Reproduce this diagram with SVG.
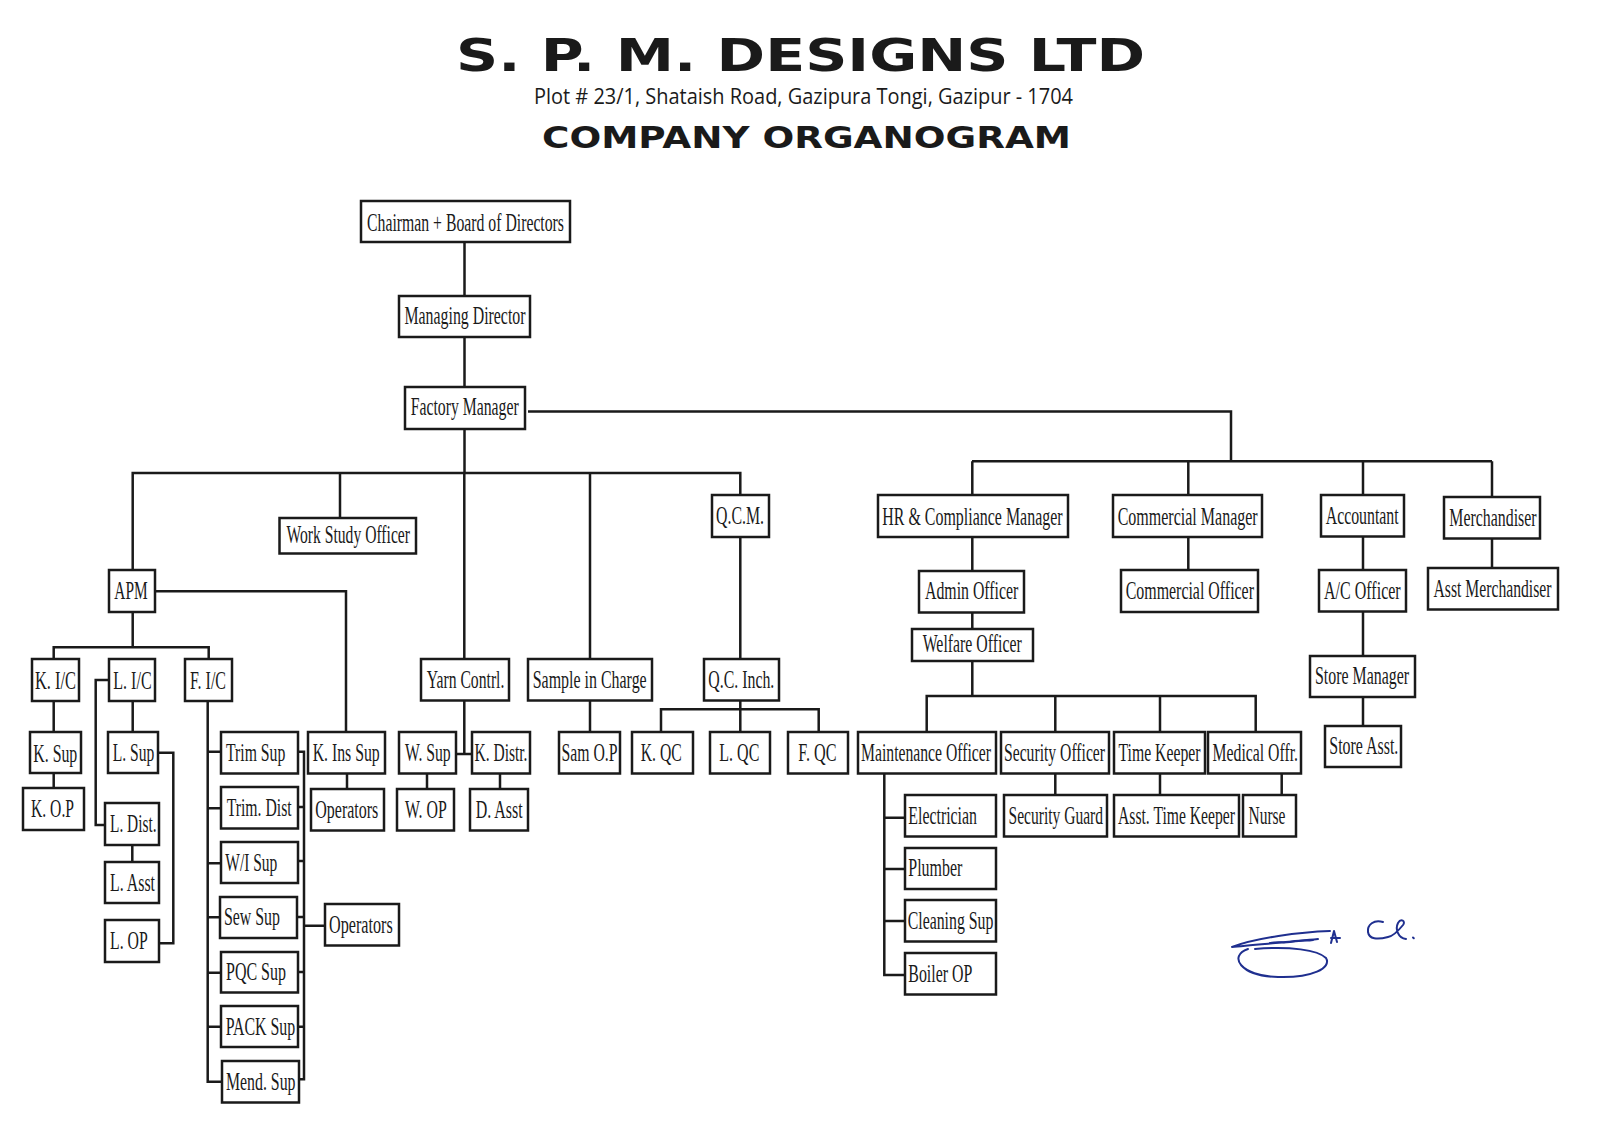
<svg xmlns="http://www.w3.org/2000/svg" width="1600" height="1131" viewBox="0 0 1600 1131">
<style>
.b{fill:#fff;stroke:#1a1a1a;stroke-width:2.5}
.t{font-family:"Liberation Serif","Times New Roman",serif;font-size:25px;fill:#1a1a1a}
.c{fill:none;stroke:#1a1a1a;stroke-width:2.5}
.h1{font-family:"DejaVu Sans","Liberation Sans",sans-serif;font-weight:bold;font-size:44px;fill:#1a1a1a}
.h2{font-family:"Open Sans","Liberation Sans",sans-serif;font-size:21px;fill:#1a1a1a}
.h3{font-family:"DejaVu Sans","Liberation Sans",sans-serif;font-weight:bold;font-size:31px;fill:#1a1a1a}
.sig{fill:none;stroke:#1f2f8f;stroke-width:2;stroke-linecap:round;stroke-linejoin:round}
</style>
<rect width="1600" height="1131" fill="#fff"/>
<g id="header">
<text class="h1" x="456" y="71" textLength="689" lengthAdjust="spacingAndGlyphs">S. P. M. DESIGNS LTD</text>
<text class="h2" x="534" y="104" textLength="539" lengthAdjust="spacingAndGlyphs">Plot # 23/1, Shataish Road, Gazipura Tongi, Gazipur - 1704</text>
<text class="h3" x="542" y="148" textLength="529" lengthAdjust="spacingAndGlyphs">COMPANY ORGANOGRAM</text>
</g>
<g id="connectors">
<path class="c" d="M464.5,242V296M464.5,337V387M464.5,429V473"/>
<path class="c" d="M132.7,570V473H740.3V495M340,473V518M590,473V659M464.3,473V659"/>
<path class="c" d="M528,411.5H1231V461.3M972,461.3H1492M972.3,461.3V495M1188.3,461.3V495M1363,461.3V495M1492,461.3V497"/>
<path class="c" d="M972.3,537V571M972.3,612.5V629M972.3,661V696M926.7,732V696H1255.7V732M1055.3,696V732M1160,696V732"/>
<path class="c" d="M1188.3,537V570M1363,536.5V570M1363,611.5V656M1363,697V726M1492,538.5V568"/>
<path class="c" d="M884.3,773.5V975H905M884.3,817.7H905M884.3,869H905M884.3,921H905"/>
<path class="c" d="M1055.3,773.5V795M1160,773.5V795M1281.7,773.5V795"/>
<path class="c" d="M155,591.3H346V732M347,773.5V789"/>
<path class="c" d="M132.7,612V647.3M53.7,659V647.3H208.7V659M53.7,701V732M53.7,773V788"/>
<path class="c" d="M109,680H95.7V825H105M132.7,701V732M158,752.7H173.3V943.3H159M132.3,845V862"/>
<path class="c" d="M207.7,701V1081.7H222M207.7,751.7H221M207.7,808.3H221M207.7,863.3H221M207.7,917.3H220M207.7,972.7H221M207.7,1026.7H221"/>
<path class="c" d="M298,751.7H304V1079.3H299M298,807H304M298,861H304M297,917H304M298,972H304M298,1026.7H304M304,925.7H325"/>
<path class="c" d="M464.3,700.5V754M456,754H472M427,773.5V789M500,773.5V789"/>
<path class="c" d="M590,700.5V732M740.3,537V659M740.3,700.5V732M661,732V709.3H818.7V732"/>
</g>
<g id="chairman"><rect class="b" x="361" y="201" width="209" height="41"/><text class="t" x="367" y="231" textLength="197" lengthAdjust="spacingAndGlyphs">Chairman + Board of Directors</text></g>
<g id="md"><rect class="b" x="399" y="296" width="131" height="41"/><text class="t" x="404.5" y="324" textLength="121" lengthAdjust="spacingAndGlyphs">Managing Director</text></g>
<g id="fm"><rect class="b" x="405" y="387" width="120" height="42"/><text class="t" x="410.7" y="415" textLength="108" lengthAdjust="spacingAndGlyphs">Factory Manager</text></g>
<g id="wso"><rect class="b" x="279.5" y="518" width="136.5" height="35.5"/><text class="t" x="286.5" y="543" textLength="123.5" lengthAdjust="spacingAndGlyphs">Work Study Officer</text></g>
<g id="apm"><rect class="b" x="109" y="570" width="46" height="42"/><text class="t" x="114.3" y="599" textLength="33.3" lengthAdjust="spacingAndGlyphs">APM</text></g>
<g id="qcm"><rect class="b" x="712" y="495" width="57" height="42"/><text class="t" x="716" y="524" textLength="48" lengthAdjust="spacingAndGlyphs">Q.C.M.</text></g>
<g id="kic"><rect class="b" x="32" y="659" width="47" height="42"/><text class="t" x="35" y="689" textLength="41" lengthAdjust="spacingAndGlyphs">K. I/C</text></g>
<g id="lic"><rect class="b" x="109" y="659" width="46" height="42"/><text class="t" x="113.3" y="689" textLength="38.3" lengthAdjust="spacingAndGlyphs">L. I/C</text></g>
<g id="fic"><rect class="b" x="185" y="659" width="47" height="42"/><text class="t" x="190" y="689" textLength="36" lengthAdjust="spacingAndGlyphs">F. I/C</text></g>
<g id="ksup"><rect class="b" x="30" y="732" width="51" height="41"/><text class="t" x="33.3" y="762" textLength="44" lengthAdjust="spacingAndGlyphs">K. Sup</text></g>
<g id="kop"><rect class="b" x="23" y="788" width="61" height="42"/><text class="t" x="31" y="817" textLength="43" lengthAdjust="spacingAndGlyphs">K. O.P</text></g>
<g id="lsup"><rect class="b" x="108" y="732" width="50" height="41"/><text class="t" x="112.7" y="761" textLength="41.5" lengthAdjust="spacingAndGlyphs">L. Sup</text></g>
<g id="ldist"><rect class="b" x="105" y="803" width="54" height="42"/><text class="t" x="110" y="832" textLength="46.5" lengthAdjust="spacingAndGlyphs">L. Dist.</text></g>
<g id="lasst"><rect class="b" x="105" y="862" width="54" height="41"/><text class="t" x="110" y="891" textLength="45" lengthAdjust="spacingAndGlyphs">L. Asst</text></g>
<g id="lop"><rect class="b" x="105" y="920" width="54" height="42"/><text class="t" x="110" y="949" textLength="37.7" lengthAdjust="spacingAndGlyphs">L. OP</text></g>
<g id="trimsup"><rect class="b" x="221" y="732" width="77" height="41.5"/><text class="t" x="226" y="761" textLength="59.3" lengthAdjust="spacingAndGlyphs">Trim Sup</text></g>
<g id="trimdist"><rect class="b" x="221" y="787" width="77" height="41.5"/><text class="t" x="226.7" y="816" textLength="65" lengthAdjust="spacingAndGlyphs">Trim. Dist</text></g>
<g id="wisup"><rect class="b" x="221" y="842" width="77" height="41"/><text class="t" x="225.3" y="871" textLength="52" lengthAdjust="spacingAndGlyphs">W/I Sup</text></g>
<g id="sewsup"><rect class="b" x="220" y="897" width="77" height="41"/><text class="t" x="224" y="925" textLength="56" lengthAdjust="spacingAndGlyphs">Sew Sup</text></g>
<g id="pqcsup"><rect class="b" x="221" y="952" width="77" height="40.5"/><text class="t" x="226" y="980" textLength="60" lengthAdjust="spacingAndGlyphs">PQC Sup</text></g>
<g id="packsup"><rect class="b" x="221" y="1006" width="77" height="41"/><text class="t" x="225.7" y="1035" textLength="69.5" lengthAdjust="spacingAndGlyphs">PACK Sup</text></g>
<g id="mendsup"><rect class="b" x="222" y="1061" width="77" height="41.5"/><text class="t" x="226" y="1090" textLength="69.5" lengthAdjust="spacingAndGlyphs">Mend. Sup</text></g>
<g id="kinssup"><rect class="b" x="308" y="732" width="77" height="41.5"/><text class="t" x="312.7" y="761" textLength="67" lengthAdjust="spacingAndGlyphs">K. Ins Sup</text></g>
<g id="operators1"><rect class="b" x="311" y="789" width="73" height="41.5"/><text class="t" x="315.3" y="818" textLength="63" lengthAdjust="spacingAndGlyphs">Operators</text></g>
<g id="operators2"><rect class="b" x="325" y="904" width="74" height="41.5"/><text class="t" x="329" y="933" textLength="63.7" lengthAdjust="spacingAndGlyphs">Operators</text></g>
<g id="yarn"><rect class="b" x="421" y="659" width="88" height="41.5"/><text class="t" x="426.7" y="688" textLength="77.7" lengthAdjust="spacingAndGlyphs">Yarn Contrl.</text></g>
<g id="sample"><rect class="b" x="528" y="659" width="124" height="41.5"/><text class="t" x="532.7" y="688" textLength="114" lengthAdjust="spacingAndGlyphs">Sample in Charge</text></g>
<g id="qcinch"><rect class="b" x="704" y="659" width="75" height="41.5"/><text class="t" x="708.3" y="688" textLength="66" lengthAdjust="spacingAndGlyphs">Q.C. Inch.</text></g>
<g id="wsup"><rect class="b" x="399" y="732" width="57" height="41.5"/><text class="t" x="405" y="761" textLength="45.7" lengthAdjust="spacingAndGlyphs">W. Sup</text></g>
<g id="kdistr"><rect class="b" x="472" y="732" width="58" height="41.5"/><text class="t" x="474.5" y="761" textLength="53" lengthAdjust="spacingAndGlyphs">K. Distr.</text></g>
<g id="samop"><rect class="b" x="559" y="732" width="61" height="41.5"/><text class="t" x="561.5" y="761" textLength="56" lengthAdjust="spacingAndGlyphs">Sam O.P</text></g>
<g id="kqc"><rect class="b" x="632" y="732" width="61" height="41.5"/><text class="t" x="640.7" y="761" textLength="41" lengthAdjust="spacingAndGlyphs">K. QC</text></g>
<g id="lqc"><rect class="b" x="710" y="732" width="60" height="41.5"/><text class="t" x="719.3" y="761" textLength="40" lengthAdjust="spacingAndGlyphs">L. QC</text></g>
<g id="fqc"><rect class="b" x="788" y="732" width="60" height="41.5"/><text class="t" x="798.3" y="761" textLength="38.3" lengthAdjust="spacingAndGlyphs">F. QC</text></g>
<g id="wop"><rect class="b" x="397" y="789" width="57" height="41.5"/><text class="t" x="405" y="818" textLength="41.7" lengthAdjust="spacingAndGlyphs">W. OP</text></g>
<g id="dasst"><rect class="b" x="470" y="789" width="58" height="41.5"/><text class="t" x="475.7" y="818" textLength="47" lengthAdjust="spacingAndGlyphs">D. Asst</text></g>
<g id="hr"><rect class="b" x="878" y="495" width="190" height="42"/><text class="t" x="882.3" y="525" textLength="180.3" lengthAdjust="spacingAndGlyphs">HR &amp; Compliance Manager</text></g>
<g id="cm"><rect class="b" x="1113" y="495" width="149" height="42"/><text class="t" x="1117.7" y="525" textLength="140" lengthAdjust="spacingAndGlyphs">Commercial Manager</text></g>
<g id="admin"><rect class="b" x="919" y="571" width="105" height="41.5"/><text class="t" x="925" y="599" textLength="93.3" lengthAdjust="spacingAndGlyphs">Admin Officer</text></g>
<g id="co"><rect class="b" x="1121" y="570" width="137" height="42"/><text class="t" x="1125.7" y="599" textLength="128.3" lengthAdjust="spacingAndGlyphs">Commercial Officer</text></g>
<g id="welfare"><rect class="b" x="912" y="629" width="121" height="32"/><text class="t" x="922.7" y="652" textLength="99" lengthAdjust="spacingAndGlyphs">Welfare Officer</text></g>
<g id="maint"><rect class="b" x="858" y="732" width="138" height="41.5"/><text class="t" x="861" y="761" textLength="130" lengthAdjust="spacingAndGlyphs">Maintenance Officer</text></g>
<g id="secoff"><rect class="b" x="1001" y="732" width="108" height="41.5"/><text class="t" x="1004" y="761" textLength="101" lengthAdjust="spacingAndGlyphs">Security Officer</text></g>
<g id="timek"><rect class="b" x="1114" y="732" width="91" height="41.5"/><text class="t" x="1118.5" y="761" textLength="82" lengthAdjust="spacingAndGlyphs">Time Keeper</text></g>
<g id="medical"><rect class="b" x="1208" y="732" width="93" height="41.5"/><text class="t" x="1212.5" y="761" textLength="85.5" lengthAdjust="spacingAndGlyphs">Medical Offr.</text></g>
<g id="electrician"><rect class="b" x="905" y="795" width="91" height="41.5"/><text class="t" x="908.3" y="824" textLength="68.7" lengthAdjust="spacingAndGlyphs">Electrician</text></g>
<g id="plumber"><rect class="b" x="905" y="848" width="91" height="41"/><text class="t" x="908.3" y="876" textLength="54" lengthAdjust="spacingAndGlyphs">Plumber</text></g>
<g id="cleaning"><rect class="b" x="905" y="900" width="91" height="41.5"/><text class="t" x="907.7" y="929" textLength="85.7" lengthAdjust="spacingAndGlyphs">Cleaning Sup</text></g>
<g id="boiler"><rect class="b" x="905" y="953" width="91" height="41.5"/><text class="t" x="908.3" y="982" textLength="64" lengthAdjust="spacingAndGlyphs">Boiler OP</text></g>
<g id="secguard"><rect class="b" x="1004" y="795" width="103" height="41.5"/><text class="t" x="1008.5" y="824" textLength="94.5" lengthAdjust="spacingAndGlyphs">Security Guard</text></g>
<g id="assttk"><rect class="b" x="1114" y="795" width="125" height="41.5"/><text class="t" x="1118" y="824" textLength="117" lengthAdjust="spacingAndGlyphs">Asst. Time Keeper</text></g>
<g id="nurse"><rect class="b" x="1243" y="795" width="53" height="41.5"/><text class="t" x="1248.5" y="824" textLength="37" lengthAdjust="spacingAndGlyphs">Nurse</text></g>
<g id="accountant"><rect class="b" x="1321" y="495" width="83" height="41.5"/><text class="t" x="1325.7" y="524" textLength="73" lengthAdjust="spacingAndGlyphs">Accountant</text></g>
<g id="merch"><rect class="b" x="1444" y="497" width="96" height="41.5"/><text class="t" x="1449.3" y="526" textLength="87.3" lengthAdjust="spacingAndGlyphs">Merchandiser</text></g>
<g id="acoff"><rect class="b" x="1319" y="570" width="87" height="41.5"/><text class="t" x="1324" y="599" textLength="76.7" lengthAdjust="spacingAndGlyphs">A/C Officer</text></g>
<g id="asstmerch"><rect class="b" x="1428" y="568" width="130" height="41.5"/><text class="t" x="1433.5" y="597" textLength="118" lengthAdjust="spacingAndGlyphs">Asst Merchandiser</text></g>
<g id="storemgr"><rect class="b" x="1310" y="656" width="105" height="41"/><text class="t" x="1315" y="684" textLength="94" lengthAdjust="spacingAndGlyphs">Store Manager</text></g>
<g id="storeasst"><rect class="b" x="1325" y="726" width="76" height="41"/><text class="t" x="1329.3" y="754" textLength="69" lengthAdjust="spacingAndGlyphs">Store Asst.</text></g>
<g id="signature">
<path class="sig" d="M1330,931 C1300,932 1255,938 1232,947 C1250,945 1290,942 1318,939"/>
<path class="sig" d="M1270,943 C1280,941 1285,944 1295,941 C1302,940 1308,941 1313,940"/>
<path class="sig" d="M1248,949 C1228,956 1240,976 1278,977 C1312,978 1332,968 1326,958 C1318,950 1290,946 1255,949"/>
<path class="sig" d="M1331,943 L1334,931 L1337,942 M1331,938 H1340"/>
<path class="sig" d="M1383,922 C1374,919 1367,925 1368,932 C1369,939 1377,940 1388,937 C1394,936 1399,930 1403,925 C1406,921 1401,918 1398,923 C1395,929 1398,938 1406,939"/>
<path class="sig" d="M1413,937.5 l0.8,0.8"/>
</g>
</svg>
